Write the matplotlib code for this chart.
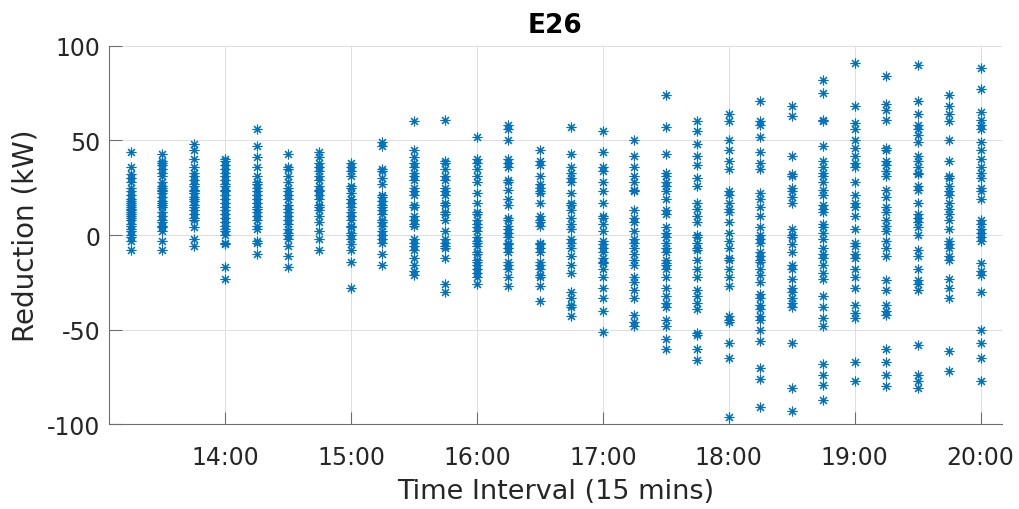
import matplotlib.pyplot as plt

plt.rcParams['font.family'] = ['DejaVu Sans']
plt.rcParams['axes.unicode_minus'] = False

# Time slots (15 min intervals)
times = ["13:15", "13:30", "13:45", "14:00", "14:15", "14:30", "14:45",
         "15:00", "15:15", "15:30", "15:45", "16:00", "16:15", "16:30",
         "16:45", "17:00", "17:15", "17:30", "17:45", "18:00", "18:15",
         "18:30", "18:45", "19:00", "19:15", "19:30", "19:45", "20:00"]

# Reduction (kW) for each slot
r1315 = [44, 36, 32, 30, 28, 25, 23, 21, 19, 18, 17, 16, 15, 14, 13, 12, 11, 10, 9, 8, 6, 5, 3, 2, 0, -1, -3, -8]
r1330 = [43, 39, 38, 37, 35, 33, 31, 28, 26, 25, 24, 23, 22, 20, 18, 17, 16, 15, 12, 10, 8, 7, 5, 4, 2, -3, -8]
r1345 = [48, 45, 40, 36, 33, 31, 29, 27, 26, 24, 23, 22, 20, 19, 18, 16, 15, 13, 11, 9, 8, 4, -2, -6]
r1400 = [40, 39, 37, 35, 33, 31, 29, 27, 26, 24, 23, 21, 19, 17, 15, 13, 11, 9, 7, 5, 3, 2, 0, -4, -5, -17, -23]
r1415 = [56, 47, 41, 36, 31, 28, 27, 25, 23, 21, 19, 17, 15, 14, 12, 10, 8, 5, 3, -3, -4, -10]
r1430 = [43, 36, 35, 31, 28, 25, 23, 21, 19, 16, 14, 12, 10, 8, 6, 3, 1, 0, -2, -6, -11, -17]
r1445 = [44, 41, 38, 36, 34, 31, 29, 26, 24, 23, 21, 19, 16, 15, 13, 10, 7, 2, -2, -8]
r1500 = [38, 36, 34, 31, 26, 25, 22, 19, 19, 17, 15, 12, 10, 8, 5, 4, 1, 0, -2, -5, -8, -14, -28]
r1515 = [49, 47, 35, 34, 30, 27, 21, 20, 18, 16, 15, 13, 11, 8, 7, 5, 2, 0, -2, -4, -10, -16]
r1530 = [60, 45, 41, 38, 36, 33, 31, 29, 25, 23, 21, 16, 15, 10, 8, 6, 5, -2, -4, -6, -8, -12, -16, -19, -21]
r1545 = [61, 39, 38, 35, 31, 29, 25, 23, 21, 17, 16, 12, 11, 8, 2, -2, -4, -6, -7, -12, -26, -30]
r1600 = [52, 40, 38, 35, 31, 28, 22, 17, 12, 11, 8, 6, 4, 2, -1, -3, -4, -6, -9, -10, -13, -14, -16, -18, -20, -22, -26]
r1615 = [58, 56, 50, 40, 38, 36, 29, 28, 24, 19, 16, 9, 8, 5, 3, 1, -1, -4, -5, -7, -9, -14, -16, -18, -22, -27]
r1630 = [45, 39, 37, 31, 27, 25, 23, 22, 17, 10, 8, 7, 5, -4, -5, -7, -9, -14, -16, -18, -21, -22, -27, -35]
r1645 = [57, 43, 36, 33, 30, 28, 22, 17, 16, 13, 9, 6, 3, -2, -4, -7, -11, -16, -20, -30, -33, -37, -38, -43]
r1700 = [55, 44, 36, 34, 28, 23, 17, 10, 9, 6, 2, -3, -5, -7, -9, -12, -14, -15, -18, -22, -28, -33, -40, -51]
r1715 = [50, 42, 36, 31, 28, 24, 23, 13, 9, 7, 2, -2, -4, -7, -10, -13, -16, -22, -25, -29, -33, -42, -46, -48]
r1730 = [74, 57, 43, 33, 31, 28, 26, 23, 19, 13, 11, 4, 1, -1, -4, -7, -9, -13, -15, -16, -18, -22, -28, -32,
         -36, -38, -45, -48, -55, -60]
r1745 = [60, 55, 48, 42, 37, 30, 26, 17, 14, 10, 7, 0, -1, -4, -7, -8, -13, -18, -22, -29, -32, -36, -39, -52,
         -53, -60, -66]
r1800 = [64, 60, 50, 45, 39, 35, 23, 21, 17, 14, 12, 7, 1, -3, -7, -12, -13, -18, -22, -27, -43, -45, -46, -57,
         -65, -96]
r1815 = [71, 60, 58, 52, 44, 38, 35, 22, 19, 15, 10, 4, 0, -2, -4, -9, -11, -13, -14, -18, -21, -25, -31, -33,
         -37, -39, -43, -45, -50, -56, -70, -76, -91]
r1830 = [68, 63, 42, 32, 31, 25, 23, 20, 17, 3, 0, -1, -5, -9, -16, -18, -23, -28, -30, -33, -36, -38, -57, -81, -93]
r1845 = [82, 75, 61, 60, 47, 39, 36, 33, 31, 28, 24, 21, 16, 14, 12, 6, 4, 1, -2, -7, -10, -12, -16, -20, -23,
         -32, -38, -44, -48, -68, -74, -79, -87]
r1900 = [91, 68, 59, 56, 50, 46, 42, 38, 36, 28, 21, 17, 15, 10, 3, -4, -6, -10, -12, -18, -22, -28, -37, -41,
         -44, -67, -77]
r1915 = [84, 69, 66, 61, 46, 45, 39, 37, 34, 31, 24, 20, 15, 12, 8, 5, 2, -3, -7, -11, -24, -29, -37, -40, -42,
         -60, -67, -74, -80]
r1930 = [90, 71, 64, 58, 56, 53, 49, 42, 39, 36, 33, 32, 26, 24, 17, 11, 9, 7, 4, 0, -8, -11, -18, -24, -26, -29,
         -58, -74, -77, -81]
r1945 = [74, 68, 64, 60, 50, 39, 31, 30, 26, 23, 21, 17, 14, 11, 8, 3, -3, -5, -7, -11, -13, -23, -28, -33, -61, -72]
r2000 = [88, 77, 65, 61, 58, 56, 49, 45, 40, 36, 33, 30, 25, 23, 19, 8, 6, 3, 1, -1, -3, -15, -19, -21, -30, -50,
         -57, -65, -77]

reductions = [r1315, r1330, r1345, r1400, r1415, r1430, r1445, r1500, r1515, r1530,
              r1545, r1600, r1615, r1630, r1645, r1700, r1715, r1730, r1745, r1800,
              r1815, r1830, r1845, r1900, r1915, r1930, r1945, r2000]

hour_ticks = [14, 15, 16, 17, 18, 19, 20]
y_ticks = [-100, -50, 0, 50, 100]


def to_hours(t):
    h, m = t.split(":")
    return int(h) + int(m) / 60


fig = plt.figure(figsize=(10.2, 5.1), dpi=100)
ax = fig.add_axes([0.1064, 0.166, 0.876, 0.7424])

for t, vals in zip(times, reductions):
    ax.plot([to_hours(t)] * len(vals), vals, linestyle='none',
            marker=(8, 2, 0), markersize=7, markeredgewidth=0.8,
            color='#0072BD')

ax.set_xlim(13.075, 20.17)
ax.set_ylim(-100, 100)
ax.set_xticks(hour_ticks)
ax.set_xticklabels([f"{h}:00" for h in hour_ticks])
ax.set_yticks(y_ticks)

ax.grid(True, color='#dedede', linewidth=0.7)
ax.set_axisbelow(True)
for side in ['top', 'right']:
    ax.spines[side].set_visible(False)
for side in ['left', 'bottom']:
    ax.spines[side].set_color('#6e6e6e')
    ax.spines[side].set_linewidth(0.8)

ax.tick_params(direction='in', length=9, width=0.8, color='#6e6e6e',
               labelsize=17, labelcolor='#262626')
ax.tick_params(axis='x', pad=15)
ax.tick_params(axis='y', pad=6)

ax.set_xlabel("Time Interval (15 mins)", fontsize=19.5, color='#262626', labelpad=6)
ax.set_ylabel("Reduction (kW)", fontsize=20, color='#262626', labelpad=5)
ax.set_title("E26", fontsize=19, fontweight='bold', color='black', pad=10)

fig.savefig("out.png", dpi=100)
